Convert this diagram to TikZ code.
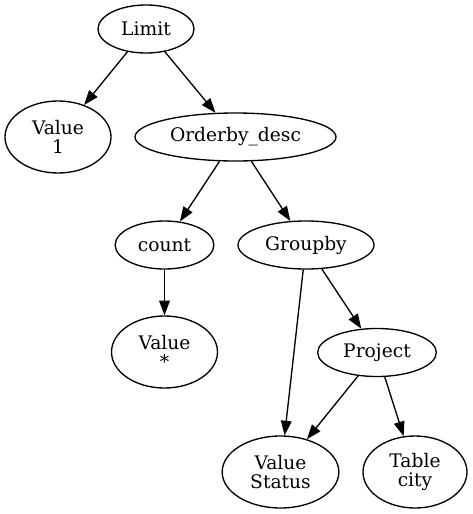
\documentclass[tikz,border=0pt]{standalone}
\usepackage{fontspec}
\setmainfont{DejaVu Serif}
\usetikzlibrary{shapes.geometric,arrows.meta}
\begin{document}
\begin{tikzpicture}[x = 0.75pt, y = -0.75pt,
	op/.style = {draw, ellipse, inner sep = 0pt, line width = 1pt, align = center,
		font = \fontsize{14}{14.5}\selectfont, minimum height = 36pt},
	leaf/.style = {op, minimum height = 54pt},
	edge/.style = {-{Triangle[length = 11pt, width = 8pt]}, line width = 1pt}]
	%	canvas
	\useasboundingbox (0, 0) rectangle (473, 514);
	
	%	nodes
	\node[op, minimum width = 72pt] (limit) at (146, 29) {Limit};
	\node[leaf, minimum width = 79.5pt] (valone) at (58, 137) {Value\\1};
	\node[op, minimum width = 150.75pt] (orderby) at (235.5, 137) {Orderby\_desc};
	\node[op, minimum width = 74pt] (count) at (164.5, 245) {count};
	\node[op, minimum width = 102pt] (groupby) at (306, 245) {Groupby};
	\node[leaf, minimum width = 79.5pt] (valstar) at (164.5, 352) {Value\\*};
	\node[op, minimum width = 89pt] (project) at (377, 352.5) {Project};
	\node[leaf, minimum width = 87.5pt] (valstatus) at (280.5, 472) {Value\\Status};
	\node[leaf, minimum width = 78pt] (tablecity) at (415, 472) {Table\\city};
	
	%	edges
	\draw[edge] (limit) -- (valone);
	\draw[edge] (limit) -- (orderby);
	\draw[edge] (orderby) -- (count);
	\draw[edge] (orderby) -- (groupby);
	\draw[edge] (count) -- (valstar);
	\draw[edge] (groupby) -- (valstatus);
	\draw[edge] (groupby) -- (project);
	\draw[edge] (project) -- (valstatus);
	\draw[edge] (project) -- (tablecity);
\end{tikzpicture}
\end{document}
